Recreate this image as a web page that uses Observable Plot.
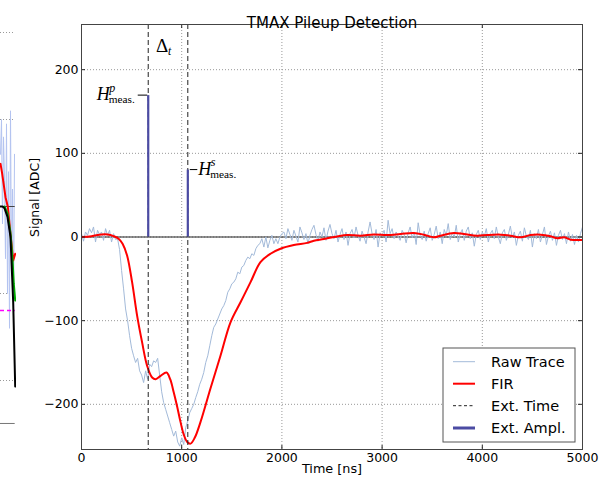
<!DOCTYPE html>
<html><head><meta charset="utf-8">
<script src="https://cdn.jsdelivr.net/npm/d3@7"></script>
<script src="https://cdn.jsdelivr.net/npm/@observablehq/plot@0.6"></script>
<style>
body{margin:0;background:#fff;}
#wrap{position:relative;width:601px;height:479px;overflow:hidden;background:#fff;}
#wrap svg{position:absolute;left:0;top:0;}
</style></head><body><div id="wrap"></div>
<script>
// ---- main chart data ----
const titleText = "TMAX Pileup Detection";
const xLabel = "Time [ns]";
const yLabel = "Signal [ADC]";
const xTicks = [0, 1000, 2000, 3000, 4000, 5000];
const yTicks = [-200, -100, 0, 100, 200];
const xDomain = [0, 5000];
const yDomain = [-254, 254];

// raw trace, one sample every 20 ns starting at 0 ns
const rawStart = 0, rawStep = 20;
const rawTrace = [
  4,-5,6,2,10,5,12,-6,8,3,6,-4,10,2,8,-6,4,-3,-2,
  -15,-40,-62,-86,-100,-118,-133,-142,-150,-145,
  -160,-165,-174,-160,-170,-152,-155,-148,-150,-145,
  -165,-185,-198,-206,-214,-222,-230,-238,-232,-245,
  -250,-240,-248,-228,-220,-210,-205,-200,-192,-185,
  -176,-170,-162,-150,-142,-130,-118,-108,-104,-98,
  -92,-86,-82,-76,-66,-62,-56,-54,-50,-42,
  -44,-36,-34,-28,-24,-26,-20,-22,-14,-10,
  -8,-2,-12,0,-13,-4,2,-8,-2,-8,
  0,4,
  6,-2,10,3,-4,8,1,-6,12,5,
  -3,4,-8,2,9,14,3,-5,6,0,
  11,-4,7,15,4,-2,8,-6,3,10,
  -3,6,-10,4,9,-1,12,2,-5,7,
  0,-8,6,18,4,-3,9,-12,5,2,
  8,-6,20,4,10,-2,6,1,-4,8,
  3,-7,5,12,-1,6,-9,17,2,-3,
  7,-5,4,11,-4,3,13,-2,6,-8,
  9,2,16,-3,5,0,14,-6,4,9,
  -4,7,12,-2,5,-11,3,8,-3,6,
  1,10,-6,4,8,-2,12,0,-8,5,
  9,-4,3,13,-1,6,-10,2,7,-5,
  11,1,-3,8,-12,4,-2,9,-6,3,
  12,-9,1,7,-4,5,-10,2,8,-3,
  4,-8,6,-5,3,-9,2,-6,4,12
];

// FIR filter output
const firTime  = [0,100,200,260,320,370,410,455,505,555,605,655,705,740,790,848,885,921,955,988,1020,1055,1088,1130,1188,1287,1387,1487,1587,1687,1786,1886,1986,2119,2252,2319,2419,2552,2652,2785,2917,3051,3184,3317,3417,3517,3583,3716,3816,3949,4049,4182,4282,4382,4482,4582,4682,4749,4815,4882,5000];
const firValue = [0,1,3,3,1,-2,-8,-22,-54,-94,-126,-154,-168,-170,-166,-162,-170,-186,-203,-221,-236,-245,-247,-240,-221,-181,-142,-102,-78,-54,-30,-20,-14,-9.6,-7,-4.4,-2.4,0.7,2.4,1.6,3.1,2.4,3.6,4.8,2.8,-0.4,1.6,4.8,3.6,1.6,2.4,2.8,1.6,-0.4,2.4,2.8,0.8,-1.6,-0.4,-3.2,-3.6];

// extracted times and amplitudes
const extTime = [666, 1061];
const extAmpl = [169, 80];
const deltaLabelValue = 220;

const legendLabels = ["Raw Trace", "FIR", "Ext. Time", "Ext. Ampl."];

// ---- fragment of the neighbouring panel at the left edge ----
const leftGrid = [200, 100, -100, -200];
const leftZero = 0;
const leftBottom = -249.4;
const leftThreshold = -119.5;
const leftRawX = [0,1,2,3,4,5,6,7,8,9,10,11,12,13,14];
const leftRaw  = [60,100,-20,80,30,-60,95,-100,40,-140,110,-80,20,-120,60];
const leftRedX = [0,1.7,5,7.3,10,12.7,14.7];
const leftRed  = [49,37.6,10.7,0,-31.4,-62,-54.4];
const leftGreenX = [4,7,10,12,13.3,14.7];
const leftGreen  = [0,-8,-31,-60,-89,-108];
const leftBlackX = [0,2,4,7,10,12.7,14.7];
const leftBlack  = [0,0,-2,-12,-35,-110,-207];
const leftXEnd = 14.7;

// ---- build ----
const wrap = document.getElementById("wrap");
const W = 601, H = 479, mL = 81, mR = 19, mT = 24, mB = 30;
const ph = H - mT - mB, pw = W - mL - mR;
const fmt = d => d < 0 ? "\u2212" + Math.abs(d) : String(d);

const lp = (xs, ys) => xs.map((x, i) => ({x, y: ys[i]}));
const leftPlot = Plot.plot({
  width: 16, height: H, margin: 0,
  x: {domain: [0, 16], axis: null},
  y: {domain: [(leftZero*0.87 - (H - 206)) / 0.87, 206 / 0.87], axis: null},
  style: {background: "transparent"},
  marks: [
    Plot.ruleY(leftGrid, {x1: 0, x2: leftXEnd, stroke: "#999", strokeDasharray: "1,2"}),
    Plot.line(lp(leftRawX, leftRaw), {x: "x", y: "y", stroke: "#b3c3f0", strokeWidth: 1}),
    Plot.ruleY([leftZero], {x1: 0, x2: leftXEnd, stroke: "#444"}),
    Plot.ruleY([leftBottom], {x1: 0, x2: leftXEnd, stroke: "#777"}),
    Plot.ruleY([leftThreshold], {x1: 0, x2: leftXEnd, stroke: "#ff00ff", strokeWidth: 1.5, strokeDasharray: "4,3"}),
    Plot.line(lp(leftRedX, leftRed), {x: "x", y: "y", stroke: "#ff0000", strokeWidth: 2}),
    Plot.line(lp(leftGreenX, leftGreen), {x: "x", y: "y", stroke: "#00aa00", strokeWidth: 2}),
    Plot.line(lp(leftBlackX, leftBlack), {x: "x", y: "y", stroke: "#000", strokeWidth: 2})
  ]
});
wrap.appendChild(leftPlot);

const raw = rawTrace.map((v, i) => ({t: rawStart + i * rawStep, v}));
const fir = firTime.map((t, i) => ({t, v: firValue[i]}));
const ext = extTime.map((t, i) => ({t, a: extAmpl[i]}));

const main = Plot.plot({
  width: W, height: H, marginLeft: mL, marginRight: mR, marginTop: mT, marginBottom: mB,
  style: {fontFamily: "'DejaVu Sans', sans-serif", fontSize: "12.5px", background: "transparent", color: "#000", overflow: "visible"},
  x: {domain: xDomain},
  y: {domain: yDomain},
  marks: [
    Plot.gridX(xTicks, {stroke: "#999", strokeOpacity: 1, strokeDasharray: "1,2"}),
    Plot.gridY(yTicks, {stroke: "#999", strokeOpacity: 1, strokeDasharray: "1,2"}),
    Plot.ruleY([0], {stroke: "#222"}),
    Plot.line(raw, {x: "t", y: "v", stroke: "#a3bad9", strokeWidth: 1, clip: true}),
    Plot.line(fir, {x: "t", y: "v", stroke: "#ff0000", strokeWidth: 2, curve: "catmull-rom", clip: true}),
    Plot.ruleX(extTime, {stroke: "#222", strokeDasharray: "5,3"}),
    Plot.ruleX(ext, {x: "t", y1: 0, y2: "a", stroke: "#4b4ba3", strokeWidth: 2.2}),
    Plot.tickX(xTicks, {x: d => d, insetTop: ph - 4, stroke: "#222"}),
    Plot.tickX(xTicks, {x: d => d, insetBottom: ph - 4, stroke: "#222"}),
    Plot.tickY(yTicks, {y: d => d, insetRight: pw - 4, stroke: "#222"}),
    Plot.tickY(yTicks, {y: d => d, insetLeft: pw - 4, stroke: "#222"}),
    Plot.frame({stroke: "#444"}),
    Plot.axisX(xTicks, {tickSize: 0, tickPadding: 4, tickFormat: fmt, label: null}),
    Plot.axisY(yTicks, {tickSize: 0, tickPadding: 3, tickFormat: fmt, label: null}),
    Plot.text([titleText], {text: d => d, frameAnchor: "top", dy: -7.5, fontSize: 15}),
    Plot.text([yLabel], {text: d => d, frameAnchor: "left", dx: -47, rotate: -90, fontSize: 12.5}),
    Plot.text([xLabel], {text: d => d, frameAnchor: "bottom", dy: 23, fontSize: 12.8})
  ]
});
wrap.appendChild(main);

// ---- math-style annotations, positioned through the plot's scales ----
const sx = main.scale("x"), sy = main.scale("y");
const svg = d3.select(main);
const serif = "'Liberation Serif', 'DejaVu Serif', serif";
const ann = svg.append("g").attr("font-family", serif).attr("fill", "#000").attr("text-anchor", "start");

function hLabel(px, py, sup, left) {
  const g = ann.append("g");
  const dashX1 = left ? px - 10 : px + 2.5, dashX2 = left ? px - 0.5 : px + 10;
  g.append("line").attr("x1", dashX1).attr("x2", dashX2).attr("y1", py).attr("y2", py)
    .attr("stroke", "#000").attr("stroke-width", 1);
  const x0 = left ? px - 51 : px + 11;
  g.append("text").attr("x", x0).attr("y", py + 5).attr("font-size", 18).attr("font-style", "italic").text("H");
  g.append("text").attr("x", x0 + 12.5).attr("y", py - 3.5).attr("font-size", 12).attr("font-style", "italic").text(sup);
  g.append("text").attr("x", x0 + 12).attr("y", py + 8).attr("font-size", 11.3).text("meas.");
}
hLabel(sx.apply(extTime[0]), sy.apply(extAmpl[0]), "p", true);
hLabel(sx.apply(extTime[1]), sy.apply(extAmpl[1]), "s", false);

const midX = (sx.apply(extTime[0]) + sx.apply(extTime[1])) / 2;
const dY = sy.apply(deltaLabelValue);
ann.append("text").attr("x", midX - 11.5).attr("y", dY).attr("font-size", 19).text("\u0394");
ann.append("text").attr("x", midX + 0.5).attr("y", dY + 3).attr("font-size", 11.5).attr("font-style", "italic").text("t");

// ---- legend ----
const lg = svg.append("g").attr("transform", "translate(443,348)")
  .attr("font-family", "'DejaVu Sans', sans-serif").attr("font-size", 14.5).attr("text-anchor", "start");
lg.append("rect").attr("width", 132).attr("height", 94).attr("fill", "#fff").attr("stroke", "#555");
const legendStyles = [
  {stroke: "#a3bad9", w: 1, dash: null},
  {stroke: "#ff0000", w: 2, dash: null},
  {stroke: "#222", w: 1, dash: "3,2.5"},
  {stroke: "#4b4ba3", w: 3, dash: null}
];
const rowY = [13.7, 35.7, 57.7, 80];
legendLabels.forEach((lab, i) => {
  const s = legendStyles[i];
  lg.append("line").attr("x1", 10).attr("x2", 32).attr("y1", rowY[i]).attr("y2", rowY[i])
    .attr("stroke", s.stroke).attr("stroke-width", s.w).attr("stroke-dasharray", s.dash);
  lg.append("text").attr("x", 48).attr("y", rowY[i]).attr("dy", "0.36em").text(lab);
});
</script></body></html>
